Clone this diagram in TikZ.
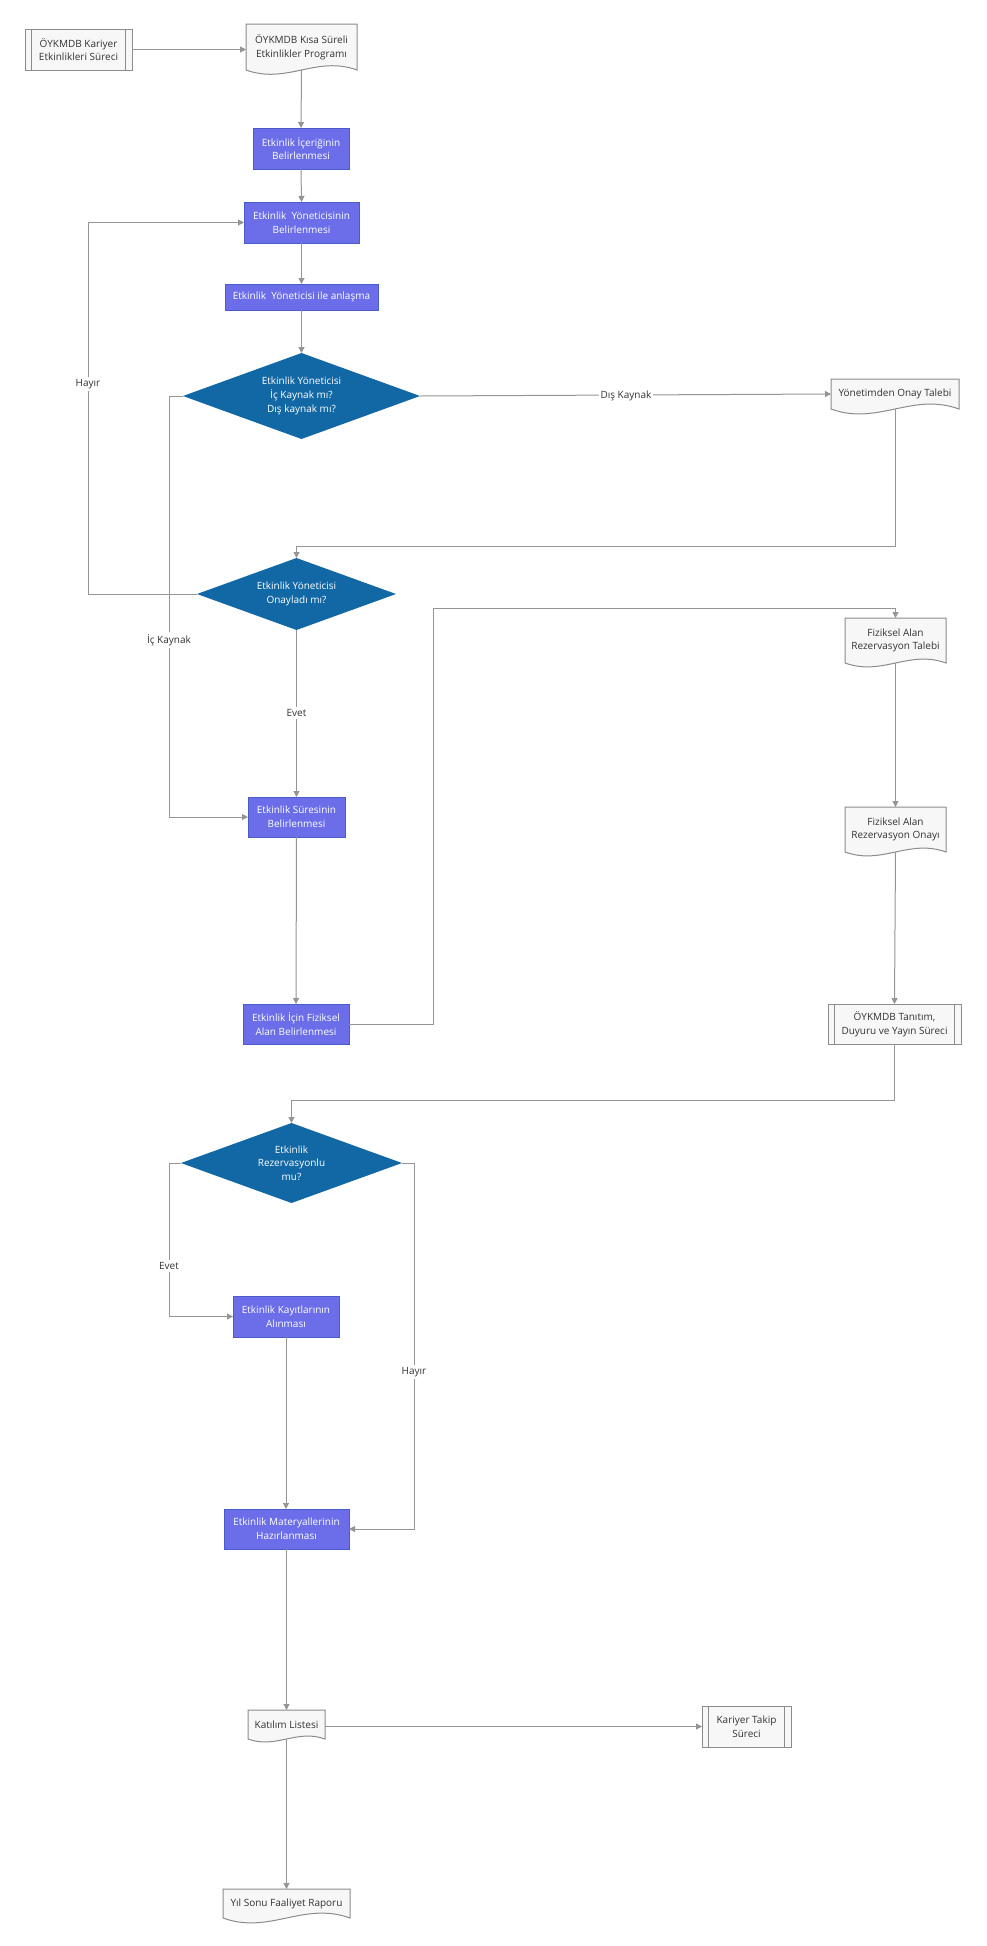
\documentclass[tikz,border=0pt]{standalone}
\usepackage{fontspec}
\setmainfont{Open Sans}
\usetikzlibrary{shapes.geometric,arrows.meta,calc,backgrounds}
\definecolor{procfill}{HTML}{6B6EE8}
\definecolor{procdraw}{HTML}{4A5CC8}
\definecolor{decfill}{HTML}{1267A5}
\definecolor{docfill}{HTML}{F7F7F7}
\definecolor{docdraw}{HTML}{8C8C8C}
\definecolor{linec}{HTML}{959595}
\definecolor{txt}{HTML}{333333}
\tikzset{
  base/.style={font=\fontsize{7.5pt}{10.3pt}\selectfont, align=center, inner sep=0pt, outer sep=0pt},
  wh/.style 2 args={minimum width=#1*0.75pt, minimum height=#2*0.75pt},
  proc/.style={base, rectangle, fill=procfill, draw=procdraw, line width=0.75pt, text=white},
  dec/.style={base, diamond, shape aspect=2.76, fill=decfill, draw=none, text=white},
  docnode/.style={base, rectangle, text=txt},
  pre/.style={base, rectangle, fill=docfill, draw=docdraw, line width=0.75pt, text=txt},
  arr/.style={draw=linec, line width=0.75pt, -{Triangle[length=4.5pt,width=4.5pt]}},
  plainln/.style={draw=linec, line width=0.75pt},
  lbl/.style={base, fill=white, text=txt, inner sep=1.5pt},
  docshape/.style={fill=docfill, draw=docdraw, line width=0.75pt},
}
\newcommand\docdraw[1]{\filldraw[docshape] (#1.south west) -- (#1.north west) -- (#1.north east) -- (#1.south east) to[out=160,in=-20] (#1.south west) -- cycle;}
\newcommand\prelines[1]{\draw[docdraw,line width=0.75pt] ($(#1.north west)+(6.5,0)$) -- ($(#1.south west)+(6.5,0)$) ($(#1.north east)+(-6.5,0)$) -- ($(#1.south east)+(-6.5,0)$);}
\begin{document}
\begin{tikzpicture}[x=0.75pt,y=0.75pt]
\useasboundingbox (0,0) rectangle (986,-1946);

% nodes
\node[pre, wh={107}{41}] (kes) at (78.5,-49.5) {ÖYKMDB Kariyer\\Etkinlikleri Süreci};
\node[docnode, wh={111}{46}] (ksp) at (301.5,-47) {ÖYKMDB Kısa Süreli\\Etkinlikler Programı};
\node[proc, wh={96}{41}] (b1) at (301,-148.5) {Etkinlik İçeriğinin\\Belirlenmesi};
\node[proc, wh={115}{41}] (b2) at (301.5,-222.5) {Etkinlik~ Yöneticisinin\\Belirlenmesi};
\node[proc, wh={153}{26}] (b3) at (301.5,-297) {Etkinlik~ Yöneticisi ile anlaşma};
\node[dec, wh={237}{86}] (d1) at (301.5,-396) {Etkinlik Yöneticisi\\İç Kaynak mı?\\Dış kaynak mı?};
\node[docnode, wh={128}{30}] (yot) at (895,-394) {Yönetimden Onay Talebi};
\node[dec, wh={199}{72}] (d2) at (296.5,-594) {Etkinlik Yöneticisi\\Onayladı mı?};
\node[docnode, wh={101}{45}] (fart) at (895.5,-640.5) {Fiziksel Alan\\Rezervasyon Talebi};
\node[proc, wh={97}{40}] (b4) at (296.5,-817) {Etkinlik Süresinin\\Belirlenmesi};
\node[docnode, wh={101}{45}] (faro) at (895.5,-829.5) {Fiziksel Alan\\Rezervasyon Onayı};
\node[proc, wh={106}{40}] (b5) at (296,-1024) {Etkinlik İçin Fiziksel\\Alan Belirlenmesi};
\node[pre, wh={133}{40}] (tan) at (894.5,-1024) {ÖYKMDB Tanıtım,\\Duyuru ve Yayın Süreci};
\node[dec, wh={221}{80}] (d3) at (291.5,-1163) {Etkinlik\\Rezervasyonlu\\mu?};
\node[proc, wh={106}{41}] (b6) at (286,-1316.5) {Etkinlik Kayıtlarının\\Alınması};
\node[proc, wh={125}{40}] (b7) at (286.5,-1529) {Etkinlik Materyallerinin\\Hazırlanması};
\node[docnode, wh={77}{29}] (kl) at (286.5,-1724.5) {Katılım Listesi};
\node[pre, wh={89}{41}] (kts) at (746.5,-1726.5) {Kariyer Takip\\Süreci};
\node[docnode, wh={127}{29}] (ysr) at (286.5,-1903.5) {Yıl Sonu Faaliyet Raporu};

\prelines{kes}
\prelines{tan}
\prelines{kts}

\begin{scope}[on background layer]
  \fill[white] (0,0) rectangle (986,-1946);
  \docdraw{ksp}
  \docdraw{yot}
  \docdraw{fart}
  \docdraw{faro}
  \docdraw{kl}
  \docdraw{ysr}
\end{scope}

% connectors
\draw[arr] (kes.east) -- (kes.east -| ksp.west);
\draw[arr] (ksp.south) -- (b1.north);
\draw[arr] (b1.south) -- (b2.north);
\draw[arr] (b2.south) -- (b3.north);
\draw[arr] (b3.south) -- (d1.north);
\draw[arr] (d1.east) -- (yot.west);
\draw[arr] (yot.south) |- ($(d2.north)+(0,12)$) -- (d2.north);
\draw[arr] (d2.west) -- ++(-109,0) |- (b2.west);
\draw[arr] (d1.west) -- ++(-14,0) |- (b4.west);
\draw[arr] (d2.south) -- (b4.north);
\draw[arr] (b4.south) -- (b5.north);
\draw[arr] (b5.east) -- ++(84,0) |- ($(fart.north)+(0,10)$) -- (fart.north);
\draw[arr] (fart.south) -- (faro.north);
\draw[arr] (faro.south) -- (tan.north);
\draw[arr] (tan.south) |- ($(d3.north)+(0,23)$) -- (d3.north);
\draw[arr] (d3.west) -- ++(-12,0) |- (b6.west);
\draw[arr] (d3.east) -- ++(12,0) |- (b7.east);
\draw[arr] (b6.south) -- (b6.south |- b7.north);
\draw[arr] (b7.south) -- (kl.north);
\draw[arr] (kl.east |- kts.west) -- (kts.west);
\draw[arr] (kl.south) -- (ysr.north);

% labels
\node[lbl] (l1) at (626,-396) {Dış Kaynak};
\node[lbl] (l2) at (88,-384) {Hayır};
\node[lbl] (l3) at (169,-640) {İç Kaynak};
\node[lbl] (l4) at (296.5,-713) {Evet};
\node[lbl] (l5) at (169,-1266) {Evet};
\node[lbl] (l6) at (414,-1372) {Hayır};
\end{tikzpicture}
\end{document}
